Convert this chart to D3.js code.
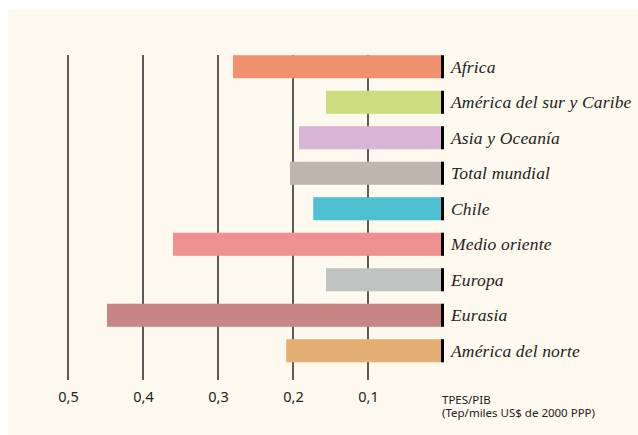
<!DOCTYPE html>
<html>
<head>
<meta charset="utf-8">
<script src="https://cdn.jsdelivr.net/npm/d3@7"></script>
<style>
  body { margin: 0; background: #fff; }
  svg { display: block; }
</style>
</head>
<body>
<script>
// regions and TPES/PIB values
const regions = ['Africa', 'América del sur y Caribe', 'Asia y Oceanía', 'Total mundial',
  'Chile', 'Medio oriente', 'Europa', 'Eurasia', 'América del norte'];
const values = [0.28, 0.156, 0.192, 0.204, 0.173, 0.36, 0.156, 0.448, 0.209];
const colors = ['#f0906e', '#cddc7e', '#dab6d6', '#c1b5b0', '#4fbfd2',
  '#f09090', '#bfc3c2', '#c78583', '#e2b074'];
const tickValues = [0.5, 0.4, 0.3, 0.2, 0.1];
const unitLines = ['TPES/PIB', '(Tep/miles US$ de 2000 PPP)'];

const width = 638, height = 435;

const svg = d3.select('body').append('svg')
  .attr('width', width)
  .attr('height', height);

// cream panel
svg.append('rect')
  .attr('x', 8).attr('y', 10)
  .attr('width', width - 8).attr('height', height - 10)
  .attr('fill', '#fef9ee');

// reversed scale: 0 on the right
const x = d3.scaleLinear()
  .domain([0, 0.5])
  .range([443, 68]);

const y = d3.scaleBand()
  .domain(regions)
  .range([49, 368.5])
  .paddingInner(0.35)
  .paddingOuter(0.175);

// grid lines
svg.append('g')
  .selectAll('line')
  .data(tickValues)
  .join('line')
  .attr('x1', d => x(d)).attr('x2', d => x(d))
  .attr('y1', 55).attr('y2', 380)
  .attr('stroke', '#333')
  .attr('stroke-width', 1.6);

// bars
svg.append('g')
  .selectAll('rect')
  .data(values)
  .join('rect')
  .attr('x', d => x(d))
  .attr('y', (d, i) => y(regions[i]))
  .attr('width', d => x(0) - x(d) - 2)
  .attr('height', y.bandwidth())
  .attr('fill', (d, i) => colors[i]);

// black end markers
svg.append('g')
  .selectAll('rect')
  .data(regions)
  .join('rect')
  .attr('x', x(0) - 2)
  .attr('y', d => y(d))
  .attr('width', 3)
  .attr('height', y.bandwidth())
  .attr('fill', '#000');

// region labels
svg.append('g')
  .selectAll('text')
  .data(regions)
  .join('text')
  .attr('x', 451)
  .attr('y', d => y(d) + y.bandwidth() / 2)
  .attr('dy', '0.35em')
  .attr('font-family', '"Liberation Serif", serif')
  .attr('font-style', 'italic')
  .attr('font-size', 17.5)
  .attr('letter-spacing', 0.15)
  .attr('fill', '#222')
  .text(d => d);

// axis tick labels
const xAxis = d3.axisBottom(x)
  .tickValues(tickValues)
  .tickSize(0)
  .tickPadding(0)
  .tickFormat(d => d3.format('.1f')(d).replace('.', ','));

svg.append('g')
  .attr('transform', 'translate(0, 392)')
  .call(xAxis)
  .call(g => g.select('.domain').remove())
  .call(g => g.selectAll('text')
    .attr('font-family', '"Noto Sans", sans-serif')
    .attr('font-size', 14.5)
    .attr('fill', '#222'));

// unit label
svg.append('text')
  .attr('x', 442)
  .attr('y', 404)
  .attr('font-family', '"Noto Sans", sans-serif')
  .attr('font-size', 11.5)
  .attr('fill', '#222')
  .selectAll('tspan')
  .data(unitLines)
  .join('tspan')
  .attr('x', 442)
  .attr('dy', (d, i) => i === 0 ? 0 : 12.5)
  .text(d => d);
</script>
</body>
</html>
